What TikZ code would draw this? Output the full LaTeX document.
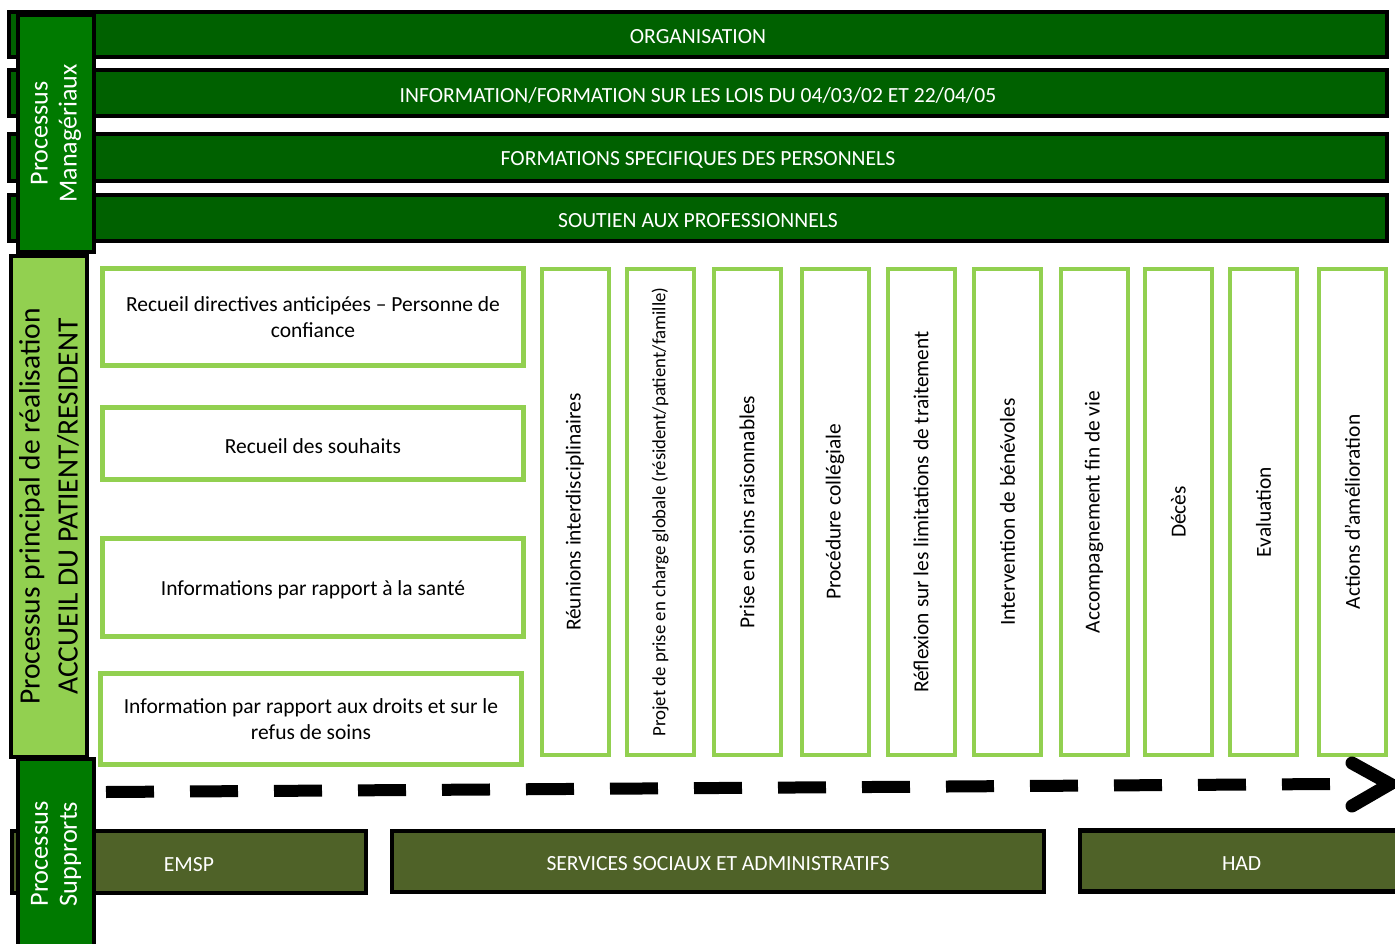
\documentclass[tikz,border=0pt]{standalone}
\usepackage{fontspec}
\setmainfont{Carlito}
\definecolor{bardark}{HTML}{006100}
\definecolor{procgreen}{HTML}{007A00}
\definecolor{lightgreen}{HTML}{92D050}
\definecolor{olivebar}{HTML}{4F6228}
% shift a label down while keeping its reported size
\newcommand{\lowered}[1]{\raisebox{-2.5pt}[\height][\depth]{#1}}
\tikzset{
  topbar/.style={draw=black, line width=4pt, fill=bardark, text=white,
    minimum width=1378, inner sep=0pt, font=\fontsize{21.6}{25}\selectfont},
  procbox/.style={draw=black, line width=4pt, rotate=90, inner sep=0pt,
    align=center},
  supbar/.style={draw=black, line width=4.5pt, fill=olivebar, text=white,
    inner sep=0pt, font=\fontsize{21.6}{25}\selectfont},
  leftbox/.style={draw=lightgreen, line width=5pt, fill=white, minimum width=421,
    inner sep=0pt, align=center, font=\fontsize{21.5}{26}\selectfont},
  stagebox/.style={draw=lightgreen, line width=4pt, fill=white, rotate=90,
    minimum width=486, minimum height=67, inner sep=0pt,
    font=\fontsize{21.4}{26}\selectfont},
  timeline/.style={line width=12pt, dash pattern=on 48pt off 36pt},
  chevron/.style={line width=13pt, line cap=round, line join=miter},
}
\begin{document}
\begin{tikzpicture}[x=1pt,y=-1pt]
\useasboundingbox[fill=white] (0,0) rectangle (1395,944);

% management bars
\node[topbar, minimum height=45] (org)  at (698,34.5) {\lowered{ORGANISATION}};
\node[topbar, minimum height=46] (info) at (698,93)   {\lowered{INFORMATION/FORMATION SUR LES LOIS DU 04/03/02 ET 22/04/05}};
\node[topbar, minimum height=47] (form) at (698,157.5) {\lowered{FORMATIONS SPECIFIQUES DES PERSONNELS}};
\node[topbar, minimum height=46] (sout) at (698,218)  {\lowered{SOUTIEN AUX PROFESSIONNELS}};

% support bars
\node[supbar, minimum width=354, minimum height=62] (emsp) at (189,862) {\lowered{EMSP}};
\node[supbar, minimum width=652, minimum height=61] (serv) at (718,861.5) {\lowered{SERVICES SOCIAUX ET ADMINISTRATIFS}};
\node[supbar, minimum width=324, minimum height=61, text width=324, align=left] (had) at (1242,861) {\hspace*{142pt}\lowered{HAD}};

% process labels on the left
\node[procbox, fill=procgreen, text=white, minimum width=237, minimum height=76,
  font=\fontsize{26}{29}\selectfont] (manag) at (56,133.5) {Processus\\Managériaux};
\node[procbox, fill=lightgreen, text=black, minimum width=501, minimum height=76,
  font=\fontsize{29.5}{38}\selectfont] (princ) at (49,506.5) {Processus principal de réalisation\\ACCUEIL DU PATIENT/RESIDENT};
\node[procbox, fill=procgreen, text=white, minimum width=191, minimum height=76,
  font=\fontsize{26.3}{29}\selectfont] (supp) at (56,854) {Processus\\Supprorts};

% reception steps
\node[leftbox, minimum height=97] (recdir) at (313,317) {Recueil directives anticipées – Personne de\\confiance};
\node[leftbox, minimum height=72] (recsou) at (313,443.5) {\lowered{Recueil des souhaits}};
\node[leftbox, minimum height=98] (infsan) at (313,587.5) {\lowered{Informations par rapport à la santé}};
\node[leftbox, minimum height=91] (infdro) at (311,719) {Information par rapport aux droits et sur le\\refus de soins};

% care pathway stages
\node[stagebox] (reun) at (575,512)    {Réunions interdisciplinaires};
\node[stagebox, font=\fontsize{18.8}{22}\selectfont] (projet) at (660,512) {Projet de prise en charge globale (résident/patient/famille)};
\node[stagebox] (prise) at (747,512)   {Prise en soins raisonnables};
\node[stagebox] (proc) at (835,512)    {Procédure collégiale};
\node[stagebox] (refl) at (921,512)    {Réflexion sur les limitations de traitement};
\node[stagebox] (interv) at (1007.5,512) {Intervention de bénévoles};
\node[stagebox] (accomp) at (1094,512) {Accompagnement fin de vie};
\node[stagebox] (deces) at (1178.5,512) {Décès};
\node[stagebox] (eval) at (1263.5,512) {Evaluation};
\node[stagebox] (actions) at (1352.5,512) {Actions d’amélioration};

% time arrow
\coordinate (tstart) at (106,792);
\coordinate (tend) at (1330,784);
\coordinate (cvtop) at (1352,763);
\coordinate (cvtip) at (1390,784);
\coordinate (cvbot) at (1352,806);
\draw[timeline] (tstart) -- (tend);
\draw[chevron] (cvtop) -- (cvtip) -- (cvbot);
\end{tikzpicture}
\end{document}
